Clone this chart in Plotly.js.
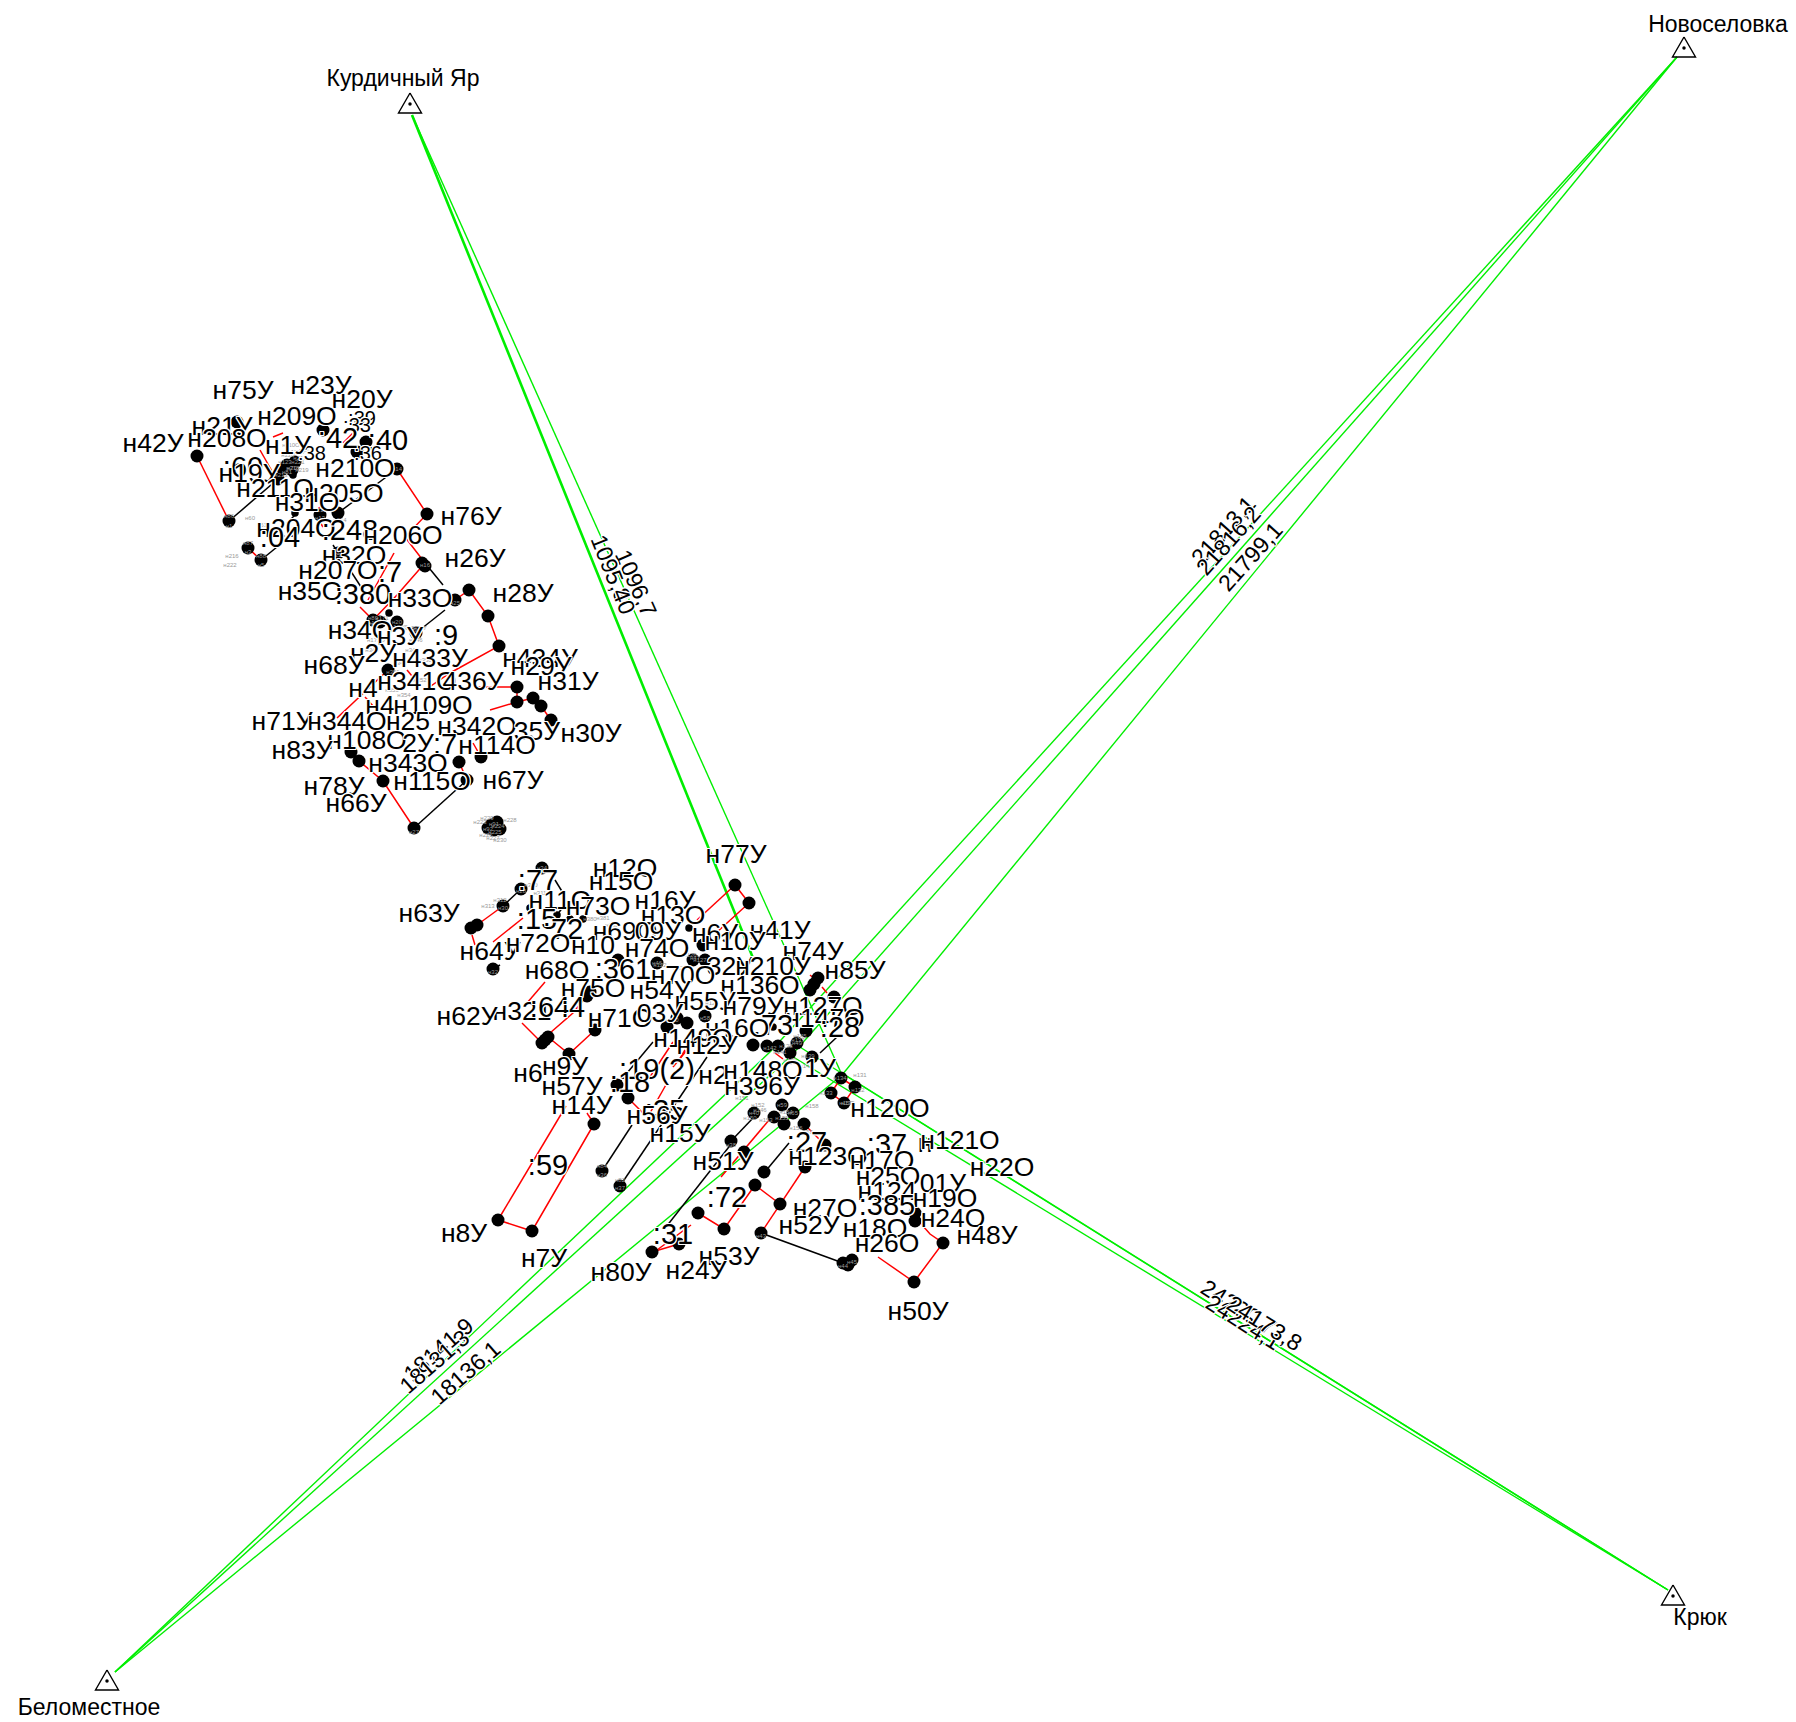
<!DOCTYPE html>
<html><head><meta charset="utf-8">
<script src="https://cdn.plot.ly/plotly-3.0.1.min.js"></script>
<style>html,body{margin:0;padding:0;background:#fff}#c{width:1796px;height:1722px}</style>
</head><body><div id="c"></div>
<script>
const stationNames=['Новоселовка','Курдичный Яр','Крюк','Беломестное'];
const stationX=[1684,410,1673,107];
const stationY=[48,104,1596,1681];
const stationLabelX=[1718,403,1700,89];
const stationLabelY=[26,80,1619,1709];

const greenX=[1677,770,null,1677,790,null,1677,842,null,
 115,770,null,115,790,null,115,842,null,
 1668,842,null,1668,795,null,1668,790,null,
 412,842,null];
const greenY=[57,1052,null,57,1057,null,57,1075,null,
 1672,1052,null,1672,1057,null,1672,1075,null,
 1590,1073,null,1590,1044,null,1590,1055,null,
 115,1075,null];
const thickGreenX=[412,753];
const thickGreenY=[115,958];

const measureText=['21813,1','21816,2','21799,1','18141,9','18131,3','18136,1','24220,7','24224,1','24173,8','1096,7','1095,8','1095,40'];
const measureX=[1223,1228,1250,438,434,465,1238,1243,1264,636,611,613];
const measureY=[531,541,557,1350,1362,1373,1307,1322,1323,583,568,574];
const measureAngle=[-48,-48,-48,-41,-41,-41,32,32,32,66,68,68];

const redX=[197,229,null,397,427,405,425,397,373,null,394,368,null,360,373,null,469,455,null,469,488,499,450,425,null,
 517,517,null,517,477,null,517,490,null,517,533,541,551,null,388,337,null,407,417,null,365,383,null,359,383,414,null,
 459,467,null,481,473,null,260,273,null,273,283,null,353,343,null,248,261,null,320,317,null,317,323,null,
 503,477,null,523,493,null,472,475,null,735,697,null,735,749,716,null,548,569,595,null,522,542,null,527,545,null,550,573,590,null,
 498,566,null,498,532,594,null,628,643,null,587,594,null,673,650,null,687,673,null,667,650,null,
 761,780,805,null,755,780,null,755,724,698,null,721,775,null,691,657,null,652,679,null,804,825,null,
 914,943,930,915,null,914,878,null,841,855,844,831,841,null,822,827,null,810,816,null,775,783,null,685,678];
const redY=[456,521,null,469,514,537,563,595,620,null,553,600,null,607,620,null,590,600,null,590,616,646,673,690,null,
 687,702,null,687,687,null,702,710,null,702,698,706,720,null,670,718,null,670,682,null,697,717,null,761,781,828,null,
 762,780,null,757,743,null,450,473,null,437,433,null,433,443,null,548,560,null,507,510,null,517,527,null,
 906,925,null,918,942,null,935,945,null,885,920,null,885,903,933,null,1037,1054,1030,null,1023,1043,null,1003,982,null,1033,1013,992,null,
 1220,1106,null,1220,1231,1124,null,1098,1113,null,1113,1124,null,1042,1077,null,1050,1067,null,1083,1113,null,
 1233,1204,1167,null,1185,1204,null,1185,1229,1213,null,1177,1113,null,1225,1250,null,1252,1244,null,1124,1145,null,
 1282,1243,1234,1217,null,1282,1257,null,1078,1087,1103,1093,1078,null,987,993,null,975,980,null,1053,1059,null,1050,1062];

const blackX=[229,278,null,338,397,null,425,443,null,445,416,null,261,277,null,297,287,null,333,338,null,350,363,null,414,467,null,
 555,563,null,563,557,null,503,521,null,493,500,null,602,632,null,617,653,null,620,707,null,666,732,null,731,754,null,764,789,null,761,843,null,820,837];
const blackY=[521,479,null,513,469,null,563,585,null,610,633,null,560,547,null,513,523,null,545,553,null,570,590,null,828,780,null,
 880,893,null,907,915,null,906,889,null,969,965,null,1171,1125,null,1085,1042,null,1186,1057,null,1227,1143,null,1141,1117,null,1173,1143,null,1233,1263,null,1053,1037];

const dotX=[197,229,278,283,338,397,427,320,323,366,357,248,261,338,237,422,425,469,488,499,455,373,397,416,380,
 388,517,517,533,541,551,351,359,383,414,459,481,467,
 287,295,292,
 542,521,503,471,477,493,735,749,703,705,693,657,618,590,587,545,542,548,569,595,667,677,687,705,617,628,594,
 498,532,602,620,731,754,782,793,804,784,774,825,744,805,764,755,780,698,724,679,652,761,843,852,848,914,943,915,915,
 818,814,810,834,806,753,767,797,778,790,812,841,855,844,831,
 491,497,488,500,494];
const dotY=[456,521,479,469,513,469,514,515,430,442,452,548,560,553,422,563,566,590,616,646,600,620,622,633,622,
 670,687,702,698,706,720,752,761,781,828,762,757,780,
 465,462,470,
 868,889,906,928,925,969,885,903,945,960,960,963,960,992,996,1040,1043,1037,1054,1030,1027,1018,1023,1016,1085,1098,1124,
 1220,1231,1171,1186,1141,1113,1105,1113,1124,1124,1117,1145,1152,1167,1172,1185,1204,1213,1229,1244,1252,1233,1263,1260,1265,1282,1243,1213,1221,
 978,984,990,997,1031,1045,1046,1043,1046,1053,1057,1078,1087,1103,1093,
 825,822,828,829,830];
const smallDotX=[295,293,389,530,557,570,583,689,773];
const smallDotY=[513,475,613,908,915,919,919,928,1027];

const tinyText=['н110О','н111О','н123','н217','н218','н219','н220','н221','н212','н213','н170О','н171','н172','н173О','н340','н345','н346','н347','н348','н349','н350','н351','н352','н353','н354',
 'н380','н381','н382','н121','н122','н126','н127','н128','н129','н130','н131','н132','н133','н134','н135','н137','н138','н139','н140','н141','н142','н143','н144','н145','н146','н150','н151','н152','н153','н154','н155','н156','н157','н158','н159',
 'н310','н311','н312','н313','н60','н61','н210','н214','н215','н216','н222','н223','н224','н225','н226','н227','н228','н229','н230',
 'н1','н3','н5','н11','н13','н14','н16','н18','н20','н22','н25','н27','н28','н30','н32','н34','н36','н37','н38','н40','н43','н44','н45','н46','н47','н49','н58','н59','н65','н70','н81','н82','н84','н86','н87','н88','н89','н90','н91','н92'];
const tinyX=[291,296,285,300,293,302,288,298,306,281,399,382,370,376,372,408,416,420,412,400,425,393,420,392,404,
 590,603,612,668,660,690,700,680,712,672,860,858,826,840,848,798,786,808,790,780,770,792,806,800,760,750,742,758,766,786,782,796,806,812,846,
 531,540,500,488,250,262,320,340,338,232,230,480,498,495,486,493,510,487,500,
 229,248,261,338,320,397,425,373,397,416,455,414,521,503,493,542,602,620,731,754,761,843,852,657,695,797,705,782,793,292,287,620,602,229,248,261,373,416,494,488];
const tinyY=[445,452,462,458,468,470,455,462,450,475,627,618,625,640,650,628,640,628,650,663,660,672,680,690,695,
 919,918,925,952,965,955,960,968,1003,1020,1075,1090,1093,1078,1103,1040,1046,1056,1060,1052,1048,1063,1066,1036,1110,1118,1098,1105,1120,1112,1118,1128,1132,1106,1103,
 885,893,900,906,518,525,510,520,555,556,565,822,826,832,835,838,820,818,840,
 526,552,565,553,518,469,565,623,622,636,603,832,891,908,972,868,1175,1188,1145,1113,1236,1266,1262,963,958,1043,1018,1105,1113,468,472,1180,1166,516,543,556,618,630,824,829];

const labelText=['н75У','н23У','н20У','н209О','н21У','н208О','н42У',':39',':33',':42',':40',':38',':36','н1У',':60','н19У','н210О','н211О','н205О','н31О','н204О',':04',':248','н206О','н76У','н26У','н32О','н207О',':7','н35О',':380','н33О','н28У','н34О','н3У',':9','н2У','н68У','н433У','н434У','н29У','н341О','436У','н31У','н4','н4','н109О','н71У','н344О','н25','н342О','35У','н30У','н108О','2У',':7','н114О','н83У','н343О','н115О','н67У','н78У','н66У',
 'н77У','н12О','н15О',':77','н11О','н73О','н16У','н63У','н13О',':15','н6У','н41У',':72','н69О','09У','н10У','н74У','н64У','н72О','н10','н74О','н85У','32У','н210У','н68О',':361','н70О','н136О','н75О','н54У','н55У','н79У','н127О','н321',':64',':4','н62У','н71О','03У','н147О',':73','н16О','н149О','н12У',':28','н6','н9У',':19(2)',':18','н57У','н2','н148О','1У','н396У','н14У',':35','н56У','н15У',':59',':27','н51У','н123О',':37','н','н121О','н17О','н22О','н120О','н25О',':72','н124','01У','н19О','н27О',':385','н24О','н52У','н18О','н26О','н48У','н8У',':31','н53У','н7У','н24У','н80У','н50У'];
const labelX=[243,321,362,297,222,227,153,362,357,338,388,312,368,288,243,249,355,275,344,307,296,280,350,403,471,475,354,338,390,310,363,420,523,360,400,446,373,334,430,540,541,417,473,568,363,380,433,282,347,408,477,537,591,367,418,445,497,302,408,432,513,334,356,
 736,625,621,538,560,598,665,429,673,537,715,780,563,625,658,735,813,490,538,593,657,855,730,773,557,623,683,760,593,660,705,753,823,522,550,573,467,620,660,825,773,737,693,707,840,528,565,657,630,572,713,763,820,762,582,665,657,680,548,807,723,828,887,925,960,882,1002,890,888,727,887,943,945,825,887,953,809,875,887,987,464,673,729,544,696,621,918];
const labelY=[392,387,401,418,428,440,445,420,427,441,443,455,455,447,470,475,470,490,495,504,530,540,533,537,518,560,557,572,575,593,597,600,595,632,638,638,655,667,660,660,668,683,683,683,690,707,707,723,723,723,728,733,735,742,745,747,747,752,765,783,782,788,805,
 856,870,883,883,902,908,902,915,917,922,935,932,932,933,933,943,953,953,945,947,950,972,968,968,972,972,977,987,990,992,1003,1008,1008,1013,1010,1010,1018,1020,1015,1020,1028,1030,1040,1047,1030,1075,1068,1072,1085,1088,1077,1072,1070,1088,1107,1113,1117,1135,1168,1145,1163,1158,1147,1145,1142,1162,1169,1110,1178,1200,1193,1185,1200,1210,1208,1220,1227,1230,1245,1237,1235,1237,1258,1260,1272,1274,1313];

const labelFont='"Liberation Sans", Arial, sans-serif';
const halo='1px 0 0 #fff,-1px 0 0 #fff,0 1px 0 #fff,0 -1px 0 #fff,1px 1px 0 #fff,-1px -1px 0 #fff,1px -1px 0 #fff,-1px 1px 0 #fff';
const smallMarks=[':39',':33',':36',':38'];
const labelSizes=labelText.map(s=>smallMarks.includes(s)?20:(s[0]===':'?29:26.5));

// triangles are outlined around each station point
const triX=[],triY=[];
stationX.forEach((x,i)=>{const y=stationY[i];triX.push(x,x+11.5,x-11.5,x,null);triY.push(y-11,y+9,y+9,y-11,null);});

const traces=[
 {x:greenX,y:greenY,mode:'lines',line:{color:'#00ee00',width:1.4}},
 {x:thickGreenX,y:thickGreenY,mode:'lines',line:{color:'#00ee00',width:2.6}},
 {x:redX,y:redY,mode:'lines',line:{color:'#ff0000',width:1.5}},
 {x:blackX,y:blackY,mode:'lines',line:{color:'#000',width:1.5}},
 {x:dotX,y:dotY,mode:'markers',marker:{color:'#000',size:13}},
 {x:smallDotX,y:smallDotY,mode:'markers',marker:{color:'#000',size:7.5}},
 {x:tinyX,y:tinyY,text:tinyText,mode:'text',textposition:'middle center',textfont:{family:labelFont,size:6,color:'#999'}},
 {x:triX,y:triY,mode:'lines',line:{color:'#000',width:1.4}},
 {x:stationX,y:stationY,mode:'markers',marker:{color:'#000',size:3.5}},
 {x:stationLabelX,y:stationLabelY,text:stationNames,mode:'text',textposition:'middle center',textfont:{family:labelFont,size:23,color:'#000'}},
 {x:labelX,y:labelY,text:labelText,mode:'text',textposition:'middle center',textfont:{family:labelFont,size:labelSizes,color:'#000',shadow:halo}}
];
traces.forEach(t=>{t.hoverinfo='skip';t.showlegend=false;t.cliponaxis=false;});

const annotations=measureText.map((s,i)=>({x:measureX[i],y:measureY[i],xref:'x',yref:'y',text:s,textangle:measureAngle[i],showarrow:false,
 font:{family:labelFont,size:23,color:'#000',shadow:halo}}));

Plotly.newPlot('c',traces,{
 width:1796,height:1722,margin:{l:0,r:0,t:0,b:0},
 paper_bgcolor:'#fff',plot_bgcolor:'#fff',showlegend:false,
 xaxis:{range:[0,1796],visible:false,fixedrange:true},
 yaxis:{range:[1722,0],visible:false,fixedrange:true},
 annotations:annotations
},{displayModeBar:false,staticPlot:true});
</script></body></html>
